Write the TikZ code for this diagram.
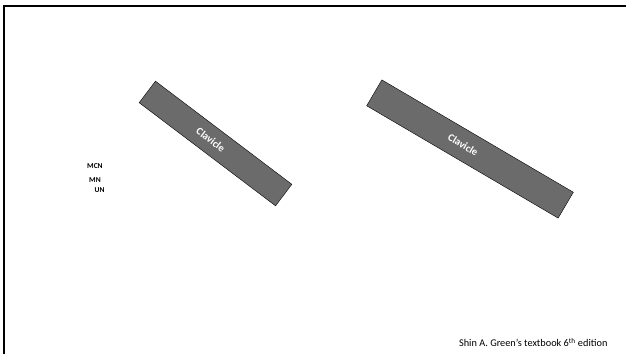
\documentclass[tikz,border=0pt]{standalone}
\usepackage{fontspec}
\setmainfont{Carlito}
\usetikzlibrary{positioning}

\begin{document}
\begin{tikzpicture}[x=1pt,y=-1pt,
    bone/.style={draw=black, thin, fill=black!58, minimum height=#1, inner sep=0pt,
        text=white, font=\bfseries\fontsize{10.5}{12}\selectfont},
    nerve/.style={font=\bfseries\fontsize{7.5}{8}\selectfont, inner sep=0pt, anchor=west}]
    \useasboundingbox (0,0) rectangle (626,354);

    % Keret (felso es bal oldali vonal)
    \draw[line width=1.6pt] (4,354) -- (4,6) -- (626,6);

    % Kulcscsont, bal oldali
    \node[bone=27pt, minimum width=171pt, rotate=-37.1] (clav1) at (215.5,143.5)
        {\hspace*{-12pt}Clavicle};

    % Kulcscsont, jobb oldali
    \node[bone=30pt, minimum width=222pt, rotate=-30.4] (clav2) at (470,149)
        {\hspace*{-16pt}Clavicle};

    % Idegek rovidítései
    \node[nerve] (mcn) at (87,166.5) {MCN};
    \node[nerve] (mn) at (89,180) {MN};
    \node[nerve] (un) at (94.5,190) {UN};

    % Forras
    \node[font=\fontsize{10.3}{12}\selectfont, anchor=east] (source) at (611,342.5)
        {Shin A. Green's textbook 6\textsuperscript{th} edition};
\end{tikzpicture}
\end{document}
